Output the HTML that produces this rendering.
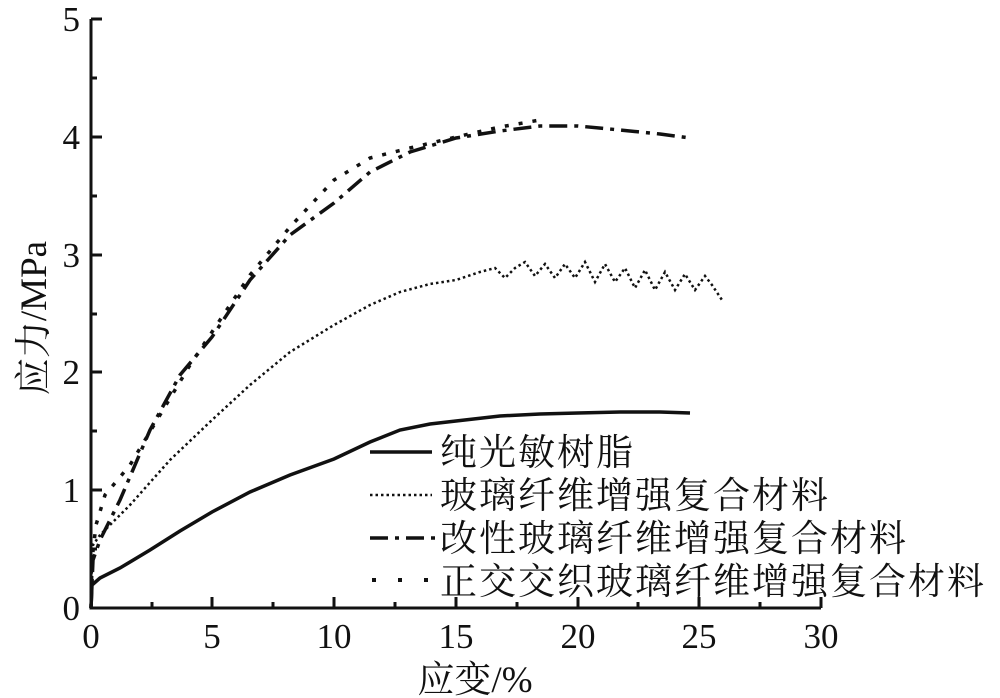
<!DOCTYPE html>
<html><head><meta charset="utf-8"><style>
html,body{margin:0;padding:0;background:#fff;}
svg{display:block}
text{fill:#111}
.t{font-family:"Liberation Serif",serif;font-size:35px}
.c{font-family:"Liberation Serif","Noto Serif CJK SC","Noto Sans CJK SC",serif;font-size:37px}
</style></head><body>
<svg width="1000" height="698" viewBox="0 0 1000 698" xmlns="http://www.w3.org/2000/svg">
<g stroke="#111" stroke-width="3" fill="none">
<path d="M91 19 V608 H821"/>
<path d="M91 19 H102 M91 78 H97 M91 137 H102 M91 196 H97 M91 255 H102 M91 314 H97 M91 372 H102 M91 431 H97 M91 490 H102 M91 549 H97"/>
<path d="M152 608 V602 M212 608 V597 M273 608 V602 M334 608 V597 M395 608 V602 M456 608 V597 M517 608 V602 M578 608 V597 M638 608 V602 M699 608 V597 M760 608 V602 M821 608 V597"/>
</g>
<g class="t" text-anchor="end">
<text x="80" y="620">0</text><text x="80" y="502">1</text><text x="80" y="384">2</text><text x="80" y="267">3</text><text x="80" y="149">4</text><text x="80" y="31">5</text>
</g>
<g class="t" text-anchor="middle">
<text x="91" y="648">0</text><text x="212" y="648">5</text><text x="334" y="648">10</text><text x="456" y="648">15</text><text x="578" y="648">20</text><text x="699" y="648">25</text><text x="821" y="648">30</text>
</g>
<text class="c" x="475" y="692" text-anchor="middle">应变/%</text>
<text class="c" transform="translate(46 318) rotate(-90)" text-anchor="middle">应力/MPa</text>
<polyline fill="none" stroke="#111" stroke-width="3.5" points="91,608 92,585 100,578 120,568 150,550 180,531 212,512 250,492 290,475 334,459 370,442 400,430 430,424 456,421 500,416 540,414 578,413 620,412 660,412 690,413"/>
<polyline fill="none" stroke="#111" stroke-width="2.5" stroke-dasharray="2.5 3" points="91,590 93,545 100,535 130,505 170,460 212,420 250,385 290,352 334,325 370,305 400,292 430,284 456,280 480,272 495,268 505,278 515,268 525,262 535,276 545,264 555,278 565,264 575,278 585,262 595,282 605,264 615,282 625,268 635,288 645,270 655,290 665,272 675,290 685,274 695,290 705,276 712,285 722,300"/>
<polyline fill="none" stroke="#111" stroke-width="3.5" stroke-dasharray="18 7 4 7" points="91,608 93,560 100,540 120,500 150,430 180,375 212,337 250,280 290,235 334,203 370,172 410,152 456,138 500,131 540,126 578,126 620,130 660,134 690,138"/>
<polyline fill="none" stroke="#111" stroke-width="3.5" stroke-dasharray="4 10" points="91,608 92,560 96,525 105,495 130,465 160,415 190,365 212,332 250,275 290,227 334,180 370,158 410,148 456,137 500,127 540,120"/>
<g stroke="#111" fill="none">
<line x1="370" y1="452" x2="432" y2="452" stroke-width="3.5"/>
<line x1="370" y1="495" x2="432" y2="495" stroke-width="2.5" stroke-dasharray="2.5 3"/>
<line x1="370" y1="538" x2="437" y2="538" stroke-width="3.5" stroke-dasharray="18 7 4 7"/>
<line x1="372" y1="580" x2="432" y2="580" stroke-width="4" stroke-dasharray="4 22"/>
</g>
<g class="c" letter-spacing="2">
<text x="440" y="465">纯光敏树脂</text>
<text x="440" y="508">玻璃纤维增强复合材料</text>
<text x="440" y="551">改性玻璃纤维增强复合材料</text>
<text x="440" y="594">正交交织玻璃纤维增强复合材料</text>
</g>
</svg>
</body></html>
